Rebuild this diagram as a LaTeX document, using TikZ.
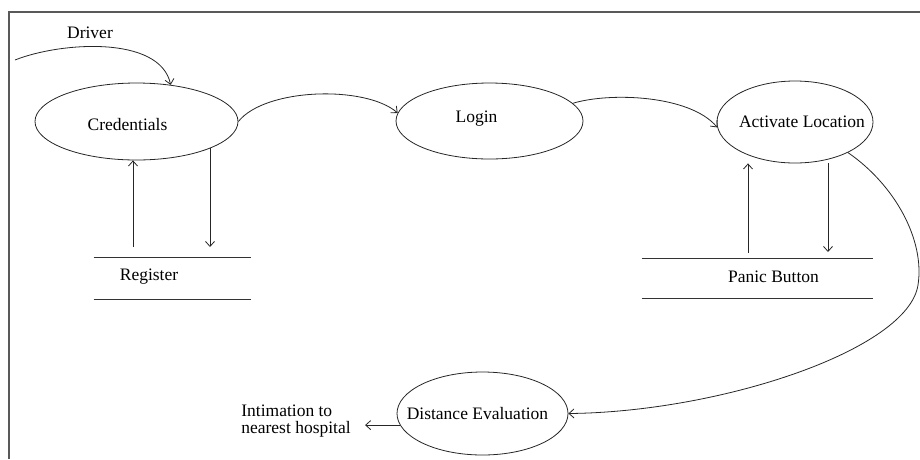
\documentclass[tikz,border=0pt]{standalone}
\usepackage{fontspec}
\setmainfont{Liberation Serif}
\usetikzlibrary{arrows.meta, positioning, shapes.geometric}

\begin{document}
\begin{tikzpicture}[x=1pt,y=-1pt,>={Straight Barb[length=5pt,width=9pt]},
    font=\fontsize{17.5}{17}\selectfont, line width=0.8pt]
  \tikzstyle{proc}=[ellipse,draw=black!85,inner sep=0pt]
  \tikzstyle{store}=[inner sep=0pt]
  \tikzstyle{storeline}=[draw=black!80]
  \tikzstyle{flow}=[->,draw=black!85]
  \tikzstyle{frame}=[draw=black!65,line width=1.6pt]

  \useasboundingbox (0,0) rectangle (920,459);
  \draw[frame] (920,12) -- (9,12) -- (9,459);

  % Processes
  \node[proc, minimum width=203pt, minimum height=77pt,
        label={[xshift=-9pt,yshift=-3pt]center:Credentials}] (cred) at (136.5,121.5) {};
  \node[proc, minimum width=187pt, minimum height=76pt,
        label={[xshift=-13pt,yshift=2pt]center:Login}] (login) at (489.5,121) {};
  \node[proc, minimum width=156pt, minimum height=82pt,
        label={[xshift=7pt]center:Activate Location}] (act) at (795,122) {};
  \node[proc, minimum width=171pt, minimum height=83pt,
        label={[xshift=-5pt]center:Distance Evaluation}] (dist) at (482.5,413.5) {};

  % Stores
  \node[store, minimum width=157pt, minimum height=41pt,
        label={[xshift=-23.5pt,yshift=1.5pt]center:Register}] (reg) at (172.5,278.5) {};
  \node[store, minimum width=231pt, minimum height=39pt,
        label={[xshift=16pt,yshift=1.5pt]center:Panic Button}] (panic) at (757.5,278.5) {};
  \draw[storeline] (reg.north west) -- (reg.north east);
  \draw[storeline] (reg.south west) -- (reg.south east);
  \draw[storeline] (panic.north west) -- (panic.north east);
  \draw[storeline] (panic.south west) -- (panic.south east);

  % Outside texts
  \node (driver) at (90,33) {Driver};
  \node[align=left, inner ysep=0pt, inner xsep=14pt] (hosp) at (296,421.5)
       {Intimation to\\nearest hospital};
  \coordinate (drvin) at (15,60);
  \coordinate (regout) at (133,247);
  \coordinate (regin) at (210,247);
  \coordinate (panout) at (748,253);
  \coordinate (panin) at (828,252);

  % Flows
  \draw[flow] (drvin) .. controls (60,42) and (160,35) .. (cred.47);
  \draw[flow] (cred.east) .. controls (265,88) and (365,85) .. (login.175);
  \draw[flow] (login.12) .. controls (610,92) and (690,95) .. (act.184);
  \draw[flow] (regout) -- (regout |- cred.south);
  \draw[flow] (cred.-20 -| regin) -- (regin);
  \draw[flow] (panout) -- (panout |- act.south);
  \draw[flow] (act.south -| panin) -- (panin);
  \draw[flow] (act.-30) .. controls (895,185) and (925,240) .. (918,285)
              .. controls (908,350) and (720,412) .. (dist.east);
  \draw[flow] (dist.188) -- (dist.188 -| hosp.east);
\end{tikzpicture}
\end{document}
